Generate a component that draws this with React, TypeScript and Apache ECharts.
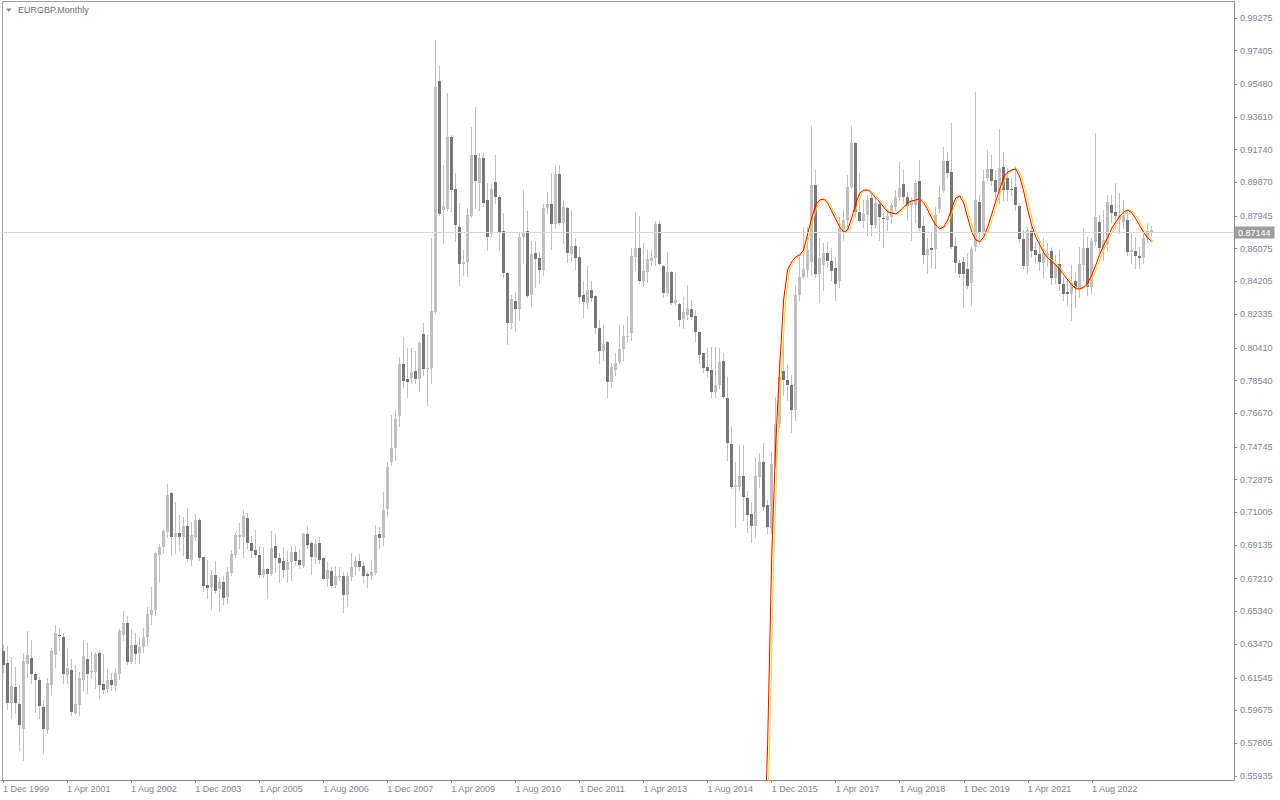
import React, { useEffect, useRef } from "react";
import * as echarts from "echarts";

const symbolName = "EURGBP";
const timeframe = "Monthly";
const monthNames = ["Jan", "Feb", "Mar", "Apr", "May", "Jun", "Jul", "Aug", "Sep", "Oct", "Nov", "Dec"];
const startYear = 1999;
const startMonth = 11; // December
const totalSlots = 308;
const labelStep = 16;

const open = [
  0.6307,0.6239,0.6010,0.6101,0.6004,0.5861,0.6233,0.6267,0.6176,0.6141,0.5987,0.5855,
  0.6113,0.6284,0.6400,0.6387,0.6170,0.6199,0.5953,0.5998,0.6141,0.6262,0.6187,0.6187,
  0.6296,0.6119,0.6090,0.6141,0.6107,0.6176,0.6399,0.6467,0.6244,0.6342,0.6296,0.6330,
  0.6387,0.6513,0.6542,0.6856,0.6902,0.6988,0.7211,0.6959,0.6982,0.6959,0.7022,0.6828,
  0.6959,0.7057,0.6845,0.6685,0.6673,0.6742,0.6662,0.6702,0.6616,0.6753,0.6856,0.6959,
  0.6959,0.7068,0.6925,0.6885,0.6856,0.6742,0.6776,0.6748,0.6908,0.6839,0.6822,0.6771,
  0.6816,0.6874,0.6828,0.6794,0.6976,0.6925,0.6845,0.6925,0.6839,0.6719,0.6765,0.6685,
  0.6731,0.6736,0.6628,0.6731,0.6788,0.6822,0.6794,0.6748,0.6736,0.6753,0.6976,0.6954,
  0.7119,0.7388,0.7468,0.7651,0.7949,0.7863,0.7869,0.7909,0.7863,0.8120,0.7920,0.7926,
  0.8246,0.9567,0.8829,0.8835,0.9246,0.8949,0.8731,0.8521,0.8532,0.8795,0.9143,0.8983,
  0.9126,0.8886,0.8692,0.8989,0.8903,0.8709,0.8469,0.8183,0.8309,0.8264,0.8675,0.8709,
  0.8344,0.8584,0.8555,0.8487,0.8841,0.8864,0.8749,0.9035,0.8755,0.8841,0.8578,0.8624,
  0.8561,0.8344,0.8298,0.8372,0.8338,0.8155,0.8023,0.8075,0.7846,0.7915,0.7960,0.8035,
  0.8103,0.8126,0.8561,0.8612,0.8424,0.8475,0.8538,0.8555,0.8749,0.8509,0.8355,0.8475,
  0.8298,0.8292,0.8206,0.8229,0.8264,0.8224,0.8132,0.8012,0.7932,0.7915,0.7789,0.7829,
  0.7966,0.7754,0.7492,0.7245,0.7245,0.7308,0.7182,0.7091,0.7022,0.7303,0.7388,0.7142,
  0.7011,0.7371,0.7606,0.7909,0.7857,0.7829,0.7686,0.8343,0.8447,0.8487,0.8532,0.8972,
  0.8464,0.8515,0.8584,0.8538,0.8498,0.8424,0.8703,0.8772,0.8961,0.9212,0.8818,0.8766,
  0.8800,0.8898,0.8743,0.8864,0.8783,0.8772,0.8789,0.8846,0.8904,0.8978,0.8904,0.8858,
  0.8858,0.8995,0.8738,0.8572,0.8612,0.8606,0.8835,0.8938,0.9109,0.9046,0.8624,0.8527,
  0.8532,0.8492,0.8412,0.8618,0.8875,0.8698,0.9012,0.9064,0.9001,0.8932,0.9075,0.9012,
  0.8949,0.8961,0.8852,0.8663,0.8509,0.8709,0.8601,0.8578,0.8527,0.8561,0.8595,0.8441,
  0.8521,0.8406,0.8360,0.8349,0.8424,0.8383,0.8515,0.8612,0.8389,0.8646,0.8761,0.8601,
  0.8635,0.8858,0.8818,0.8772,0.8761,0.8772,0.8589,0.8595,0.8566,0.8555,0.8669,0.8700,
];

const high = [
  0.6342,0.6336,0.6273,0.6216,0.6113,0.6296,0.6422,0.6370,0.6187,0.6159,0.6027,0.6153,
  0.6324,0.6456,0.6439,0.6410,0.6324,0.6262,0.6227,0.6187,0.6370,0.6353,0.6302,0.6302,
  0.6313,0.6290,0.6204,0.6181,0.6210,0.6433,0.6536,0.6508,0.6433,0.6410,0.6387,0.6439,
  0.6559,0.6673,0.6874,0.6919,0.7005,0.7262,0.7217,0.7160,0.7085,0.7074,0.7125,0.7045,
  0.7091,0.7068,0.6845,0.6828,0.6771,0.6822,0.6731,0.6736,0.6788,0.6885,0.6982,0.7039,
  0.7114,0.7097,0.6965,0.6999,0.6908,0.6902,0.6782,0.6994,0.6976,0.6868,0.6902,0.6879,
  0.6908,0.6908,0.6891,0.6982,0.7022,0.6936,0.6948,0.6959,0.6845,0.6816,0.6788,0.6794,
  0.6788,0.6759,0.6759,0.6868,0.6845,0.6862,0.6816,0.6759,0.6828,0.7028,0.7017,0.7217,
  0.7388,0.7657,0.7686,0.7989,0.8103,0.8040,0.8040,0.8023,0.8080,0.8183,0.8115,0.8670,
  0.9801,0.9653,0.9086,0.9498,0.9258,0.9040,0.8869,0.8601,0.8840,0.9304,0.9418,0.9155,
  0.9155,0.8983,0.8978,0.9143,0.8914,0.8812,0.8475,0.8344,0.8361,0.8698,0.8943,0.8823,
  0.8652,0.8652,0.8590,0.8864,0.8932,0.9040,0.9081,0.9086,0.8886,0.8846,0.8829,0.8670,
  0.8618,0.8424,0.8509,0.8424,0.8344,0.8201,0.8172,0.8080,0.7955,0.8012,0.8172,0.8172,
  0.8224,0.8612,0.8818,0.8795,0.8641,0.8601,0.8601,0.8766,0.8766,0.8515,0.8590,0.8481,
  0.8469,0.8298,0.8332,0.8401,0.8315,0.8258,0.8138,0.8012,0.8040,0.8046,0.8046,0.8040,
  0.8012,0.7874,0.7594,0.7388,0.7486,0.7486,0.7222,0.7160,0.7417,0.7440,0.7497,0.7171,
  0.7446,0.7760,0.7972,0.8115,0.7943,0.7886,0.8401,0.8561,0.8732,0.8732,0.9310,0.9058,
  0.8670,0.8641,0.8647,0.8612,0.8561,0.8789,0.8829,0.9029,0.9310,0.9218,0.9040,0.8886,
  0.8915,0.8926,0.8904,0.8875,0.8812,0.8829,0.8869,0.8943,0.9104,0.9058,0.8932,0.8904,
  0.9001,0.9115,0.8789,0.8670,0.8698,0.8846,0.8972,0.9189,0.9161,0.9327,0.8675,0.8544,
  0.8561,0.8584,0.8618,0.9504,0.8915,0.9058,0.9172,0.9143,0.9058,0.9292,0.9161,0.9069,
  0.9012,0.9081,0.8869,0.8715,0.8732,0.8732,0.8647,0.8658,0.8670,0.8641,0.8618,0.8572,
  0.8601,0.8446,0.8429,0.8515,0.8469,0.8618,0.8726,0.8675,0.8670,0.9270,0.8801,0.8829,
  0.8915,0.8915,0.8983,0.8926,0.8886,0.8829,0.8698,0.8675,0.8618,0.8715,0.8755,0.8740,
];

const low = [
  0.6187,0.5976,0.5924,0.5953,0.5742,0.5685,0.6159,0.6124,0.5958,0.5924,0.5725,0.5838,
  0.6056,0.6216,0.6313,0.6124,0.6124,0.5941,0.5947,0.5941,0.6084,0.6067,0.6153,0.6096,
  0.6039,0.6067,0.6073,0.6084,0.6084,0.6147,0.6370,0.6233,0.6239,0.6239,0.6239,0.6302,
  0.6342,0.6462,0.6513,0.6708,0.6868,0.6959,0.6856,0.6868,0.6885,0.6856,0.6822,0.6799,
  0.6942,0.6828,0.6650,0.6610,0.6548,0.6639,0.6536,0.6576,0.6582,0.6742,0.6845,0.6896,
  0.6845,0.6896,0.6845,0.6845,0.6731,0.6731,0.6610,0.6742,0.6759,0.6702,0.6731,0.6702,
  0.6713,0.6799,0.6782,0.6788,0.6896,0.6748,0.6811,0.6811,0.6713,0.6679,0.6673,0.6673,
  0.6713,0.6530,0.6565,0.6713,0.6748,0.6771,0.6702,0.6673,0.6719,0.6748,0.6896,0.6914,
  0.7085,0.7371,0.7400,0.7594,0.7817,0.7760,0.7840,0.7840,0.7794,0.7886,0.7714,0.7840,
  0.8241,0.8800,0.8641,0.8829,0.8823,0.8652,0.8401,0.8458,0.8452,0.8789,0.8840,0.8829,
  0.8852,0.8601,0.8674,0.8869,0.8601,0.8447,0.8063,0.8155,0.8138,0.8201,0.8527,0.8332,
  0.8281,0.8389,0.8412,0.8458,0.8812,0.8607,0.8726,0.8749,0.8641,0.8532,0.8544,0.8492,
  0.8298,0.8218,0.8269,0.8309,0.8126,0.7955,0.7972,0.7760,0.7817,0.7886,0.7955,0.7972,
  0.8075,0.8086,0.8487,0.8412,0.8395,0.8418,0.8515,0.8515,0.8515,0.8332,0.8344,0.8292,
  0.8286,0.8166,0.8155,0.8206,0.8206,0.8080,0.7955,0.7903,0.7874,0.7760,0.7760,0.7812,
  0.7754,0.7400,0.7240,0.7017,0.7228,0.7057,0.6988,0.6931,0.6959,0.7245,0.7114,0.6982,
  0.6982,0.7360,0.7589,0.7771,0.7743,0.7560,0.7629,0.8315,0.8441,0.8447,0.8464,0.8447,
  0.8304,0.8372,0.8504,0.8429,0.8315,0.8389,0.8658,0.8715,0.8955,0.8789,0.8761,0.8732,
  0.8686,0.8686,0.8732,0.8658,0.8618,0.8715,0.8755,0.8829,0.8886,0.8869,0.8772,0.8658,
  0.8761,0.8715,0.8527,0.8469,0.8504,0.8498,0.8818,0.8932,0.9018,0.8612,0.8475,0.8447,
  0.8275,0.8383,0.8286,0.8595,0.8641,0.8692,0.9001,0.8972,0.8904,0.8869,0.8886,0.8886,
  0.8915,0.8829,0.8647,0.8498,0.8469,0.8561,0.8527,0.8487,0.8447,0.8509,0.8406,0.8412,
  0.8372,0.8315,0.8286,0.8201,0.8275,0.8332,0.8429,0.8344,0.8355,0.8629,0.8584,0.8544,
  0.8601,0.8761,0.8726,0.8698,0.8726,0.8572,0.8527,0.8498,0.8498,0.8527,0.8646,0.8685,
];

const close = [
  0.6227,0.6010,0.6107,0.6010,0.5884,0.6250,0.6284,0.6176,0.6141,0.5993,0.5861,0.6124,
  0.6307,0.6410,0.6398,0.6176,0.6210,0.5958,0.6004,0.6153,0.6279,0.6176,0.6192,0.6290,
  0.6113,0.6084,0.6141,0.6113,0.6181,0.6422,0.6467,0.6244,0.6342,0.6290,0.6330,0.6387,
  0.6519,0.6542,0.6868,0.6902,0.6994,0.7200,0.6959,0.6982,0.6959,0.7022,0.6834,0.6971,
  0.7057,0.6839,0.6679,0.6668,0.6742,0.6650,0.6702,0.6610,0.6759,0.6862,0.6971,0.6971,
  0.7079,0.6925,0.6879,0.6856,0.6742,0.6776,0.6748,0.6896,0.6839,0.6811,0.6771,0.6816,
  0.6874,0.6822,0.6799,0.6976,0.6914,0.6845,0.6919,0.6828,0.6719,0.6771,0.6679,0.6736,
  0.6736,0.6628,0.6736,0.6788,0.6822,0.6788,0.6736,0.6736,0.6759,0.6971,0.6954,0.7114,
  0.7360,0.7468,0.7634,0.7949,0.7852,0.7846,0.7903,0.7863,0.8069,0.7920,0.7926,0.8252,
  0.9532,0.8806,0.8852,0.9246,0.8943,0.8743,0.8521,0.8532,0.8800,0.9143,0.8995,0.9126,
  0.8869,0.8674,0.8949,0.8903,0.8703,0.8469,0.8183,0.8321,0.8264,0.8675,0.8698,0.8338,
  0.8578,0.8549,0.8487,0.8841,0.8864,0.8749,0.9035,0.8755,0.8846,0.8584,0.8624,0.8555,
  0.8332,0.8304,0.8372,0.8326,0.8155,0.8023,0.8063,0.7846,0.7932,0.7955,0.8035,0.8109,
  0.8109,0.8567,0.8612,0.8424,0.8481,0.8549,0.8555,0.8749,0.8521,0.8355,0.8475,0.8298,
  0.8315,0.8201,0.8246,0.8269,0.8218,0.8132,0.8000,0.7926,0.7909,0.7789,0.7829,0.7960,
  0.7760,0.7497,0.7245,0.7257,0.7308,0.7188,0.7085,0.7022,0.7308,0.7388,0.7131,0.7017,
  0.7377,0.7606,0.7874,0.7857,0.7829,0.7686,0.8343,0.8447,0.8492,0.8601,0.8972,0.8464,
  0.8555,0.8584,0.8538,0.8481,0.8406,0.8726,0.8772,0.8961,0.9212,0.8818,0.8766,0.8806,
  0.8886,0.8743,0.8869,0.8789,0.8778,0.8795,0.8858,0.8904,0.8955,0.8904,0.8852,0.8886,
  0.8983,0.8726,0.8572,0.8606,0.8601,0.8800,0.8904,0.9109,0.9041,0.8618,0.8527,0.8464,
  0.8464,0.8395,0.8606,0.8886,0.8698,0.8995,0.9064,0.8995,0.8932,0.9069,0.8943,0.8943,
  0.8943,0.8858,0.8663,0.8509,0.8715,0.8595,0.8572,0.8532,0.8584,0.8578,0.8441,0.8515,
  0.8406,0.8349,0.8349,0.8412,0.8383,0.8521,0.8612,0.8389,0.8652,0.8789,0.8612,0.8658,
  0.8875,0.8812,0.8795,0.8801,0.8801,0.8589,0.8601,0.8566,0.8555,0.8669,0.8709,0.87144,
];

// smoothed indicator (red/yellow), starting at bar index 190
const smoothStartIndex = 190;
const smoothValues = [
  0.5050,0.5771,0.6828,0.7486,0.7926,0.8315,0.8487,0.8532,0.8561,0.8572,
  0.8601,0.8692,0.8783,0.8858,0.8886,0.8892,0.8869,0.8823,0.8778,0.8732,
  0.8703,0.8715,0.8783,0.8864,0.8926,0.8943,0.8943,0.8926,0.8898,0.8875,
  0.8846,0.8818,0.8812,0.8806,0.8823,0.8846,0.8869,0.8881,0.8886,0.8892,
  0.8869,0.8829,0.8783,0.8743,0.8721,0.8732,0.8772,0.8841,0.8898,0.8909,
  0.8869,0.8783,0.8703,0.8658,0.8647,0.8675,0.8732,0.8806,0.8881,0.8949,
  0.9018,0.9046,0.9058,0.9064,0.9018,0.8932,0.8829,0.8738,0.8675,0.8630,
  0.8584,0.8555,0.8532,0.8515,0.8487,0.8458,0.8429,0.8401,0.8378,0.8378,
  0.8389,0.8412,0.8458,0.8515,0.8578,0.8630,0.8675,0.8726,0.8761,0.8795,
  0.8818,0.8829,0.8812,0.8778,0.8738,0.8698,0.8670,0.8647,
];

const priceTicks = [
  0.55935, 0.57805, 0.59675, 0.61545, 0.6347, 0.6534, 0.6721, 0.69135, 0.71005, 0.72875,
  0.74745, 0.7667, 0.7854, 0.8041, 0.82335, 0.84205, 0.86075, 0.87945, 0.8987, 0.9174,
  0.9361, 0.9548, 0.97405, 0.99275,
];
const currentPrice = 0.87144;
const yMin = 0.557;
const yMax = 1.0024;

const FONT = '"Liberation Sans", Arial, sans-serif';
const AXIS_COLOR = "#8c8c8c";
const TEXT_COLOR = "#7a8599";
const UP_COLOR = "#c0c0c0";
const DOWN_COLOR = "#777777";
const WICK_COLOR = "#c0c0c0";

const categories = Array.from({ length: totalSlots }, (_, k) => {
  const m = (startMonth + k) % 12;
  const y = startYear + Math.floor((startMonth + k) / 12);
  return `1 ${monthNames[m]} ${y}`;
});

const showLabel = (idx: number) => idx % labelStep === 0 && idx < open.length;

export default function App() {
  const ref = useRef<HTMLDivElement>(null);

  useEffect(() => {
    if (!ref.current) return;
    const chart = echarts.init(ref.current, undefined, { renderer: "svg" });

    const candleData = open.map((o, i) => [i, o, close[i], low[i], high[i]]);
    const lineData = smoothValues.map((v, k) => [smoothStartIndex + k, v]);

    const option: any = {
      animation: false,
      backgroundColor: "#ffffff",
      grid: [
        { left: 1, top: 1, width: 1233, height: 779 },
        { left: 3, top: 1, width: 1233, height: 779 },
      ],
      xAxis: [
        {
          type: "category",
          gridIndex: 0,
          data: categories,
          boundaryGap: true,
          axisLine: { show: true, lineStyle: { color: AXIS_COLOR, width: 1 } },
          axisTick: {
            show: true,
            alignWithLabel: true,
            interval: (i: number) => showLabel(i),
            length: 3,
            lineStyle: { color: AXIS_COLOR },
          },
          axisLabel: {
            interval: (i: number) => showLabel(i),
            align: "left",
            margin: 4,
            fontSize: 9,
            fontFamily: FONT,
            color: TEXT_COLOR,
          },
          splitLine: { show: false },
        },
        { type: "category", gridIndex: 1, data: categories, boundaryGap: true, show: false },
      ],
      yAxis: [
        {
          type: "value",
          gridIndex: 0,
          position: "right",
          min: yMin,
          max: yMax,
          axisLine: { show: true, lineStyle: { color: AXIS_COLOR, width: 1 } },
          axisTick: { show: true, length: 3, customValues: priceTicks, lineStyle: { color: AXIS_COLOR } },
          axisLabel: {
            customValues: priceTicks,
            formatter: (v: number) => v.toFixed(5),
            margin: 6,
            fontSize: 9,
            fontFamily: FONT,
            color: TEXT_COLOR,
          },
          splitLine: { show: false },
        },
        { type: "value", gridIndex: 1, min: yMin, max: yMax, show: false, splitLine: { show: false } },
      ],
      graphic: [
        { type: "line", shape: { x1: 2, y1: 1.5, x2: 1234, y2: 1.5 }, style: { stroke: "#a0a0a0", lineWidth: 1 }, silent: true },
        { type: "line", shape: { x1: 2.5, y1: 1, x2: 2.5, y2: 780 }, style: { stroke: "#a0a0a0", lineWidth: 1 }, silent: true },
        { type: "polygon", shape: { points: [[6, 8.5], [11.5, 8.5], [8.75, 12]] }, style: { fill: "#8a8a8a" }, silent: true },
        {
          type: "text",
          x: 18,
          y: 10,
          silent: true,
          style: {
            text: `${symbolName},${timeframe}`,
            fill: "#6e6e6e",
            fontSize: 9,
            fontFamily: FONT,
            verticalAlign: "middle",
            align: "left",
          },
        },
      ],
      series: [
        {
          type: "line",
          name: "price",
          xAxisIndex: 0,
          yAxisIndex: 0,
          data: [],
          z: 1,
          silent: true,
          markLine: {
            silent: true,
            symbol: ["none", "none"],
            animation: false,
            lineStyle: { color: "#d9d9d9", width: 1, type: "solid" },
            label: {
              show: true,
              position: "end",
              formatter: () => currentPrice.toFixed(5),
              backgroundColor: "#9d9d9d",
              color: "#ffffff",
              fontSize: 9,
              fontFamily: FONT,
              padding: [2, 4, 1, 3],
              distance: 1,
            },
            emphasis: { disabled: true },
            data: [{ yAxis: currentPrice }],
          },
        },
        {
          type: "custom",
          name: "candles",
          xAxisIndex: 0,
          yAxisIndex: 0,
          z: 2,
          silent: true,
          encode: { x: 0, y: [1, 2, 3, 4] },
          data: candleData,
          renderItem: (params: any, api: any) => {
            const idx = api.value(0);
            const o = api.value(1);
            const c = api.value(2);
            const l = api.value(3);
            const h = api.value(4);
            const pO = api.coord([idx, o]);
            const pC = api.coord([idx, c]);
            const pL = api.coord([idx, l]);
            const pH = api.coord([idx, h]);
            const cx = Math.floor(pO[0]);
            const up = c >= o;
            const top = Math.round(Math.min(pO[1], pC[1]));
            const bot = Math.round(Math.max(pO[1], pC[1]));
            const hgt = Math.max(1, bot - top);
            return {
              type: "group",
              children: [
                {
                  type: "line",
                  shape: { x1: cx + 0.5, y1: Math.round(pH[1]), x2: cx + 0.5, y2: Math.round(pL[1]) + 1 },
                  style: { stroke: WICK_COLOR, lineWidth: 1 },
                },
                {
                  type: "rect",
                  shape: { x: cx - 1, y: top, width: 3, height: hgt },
                  style: { fill: up ? UP_COLOR : DOWN_COLOR },
                },
              ],
            };
          },
        },
        {
          type: "line",
          name: "smooth-yellow",
          xAxisIndex: 1,
          yAxisIndex: 1,
          data: lineData,
          z: 3,
          silent: true,
          symbol: "none",
          showSymbol: false,
          lineStyle: { color: "#ffd400", width: 1 },
        },
        {
          type: "line",
          name: "smooth-red",
          xAxisIndex: 0,
          yAxisIndex: 0,
          data: lineData,
          z: 4,
          silent: true,
          symbol: "none",
          showSymbol: false,
          lineStyle: { color: "#ff0000", width: 1 },
        },
      ],
    };

    chart.setOption(option);
    return () => chart.dispose();
  }, []);

  return (
    <div
      ref={ref}
      style={{ position: "fixed", left: 0, top: 0, width: 1280, height: 800, background: "#ffffff" }}
    />
  );
}
